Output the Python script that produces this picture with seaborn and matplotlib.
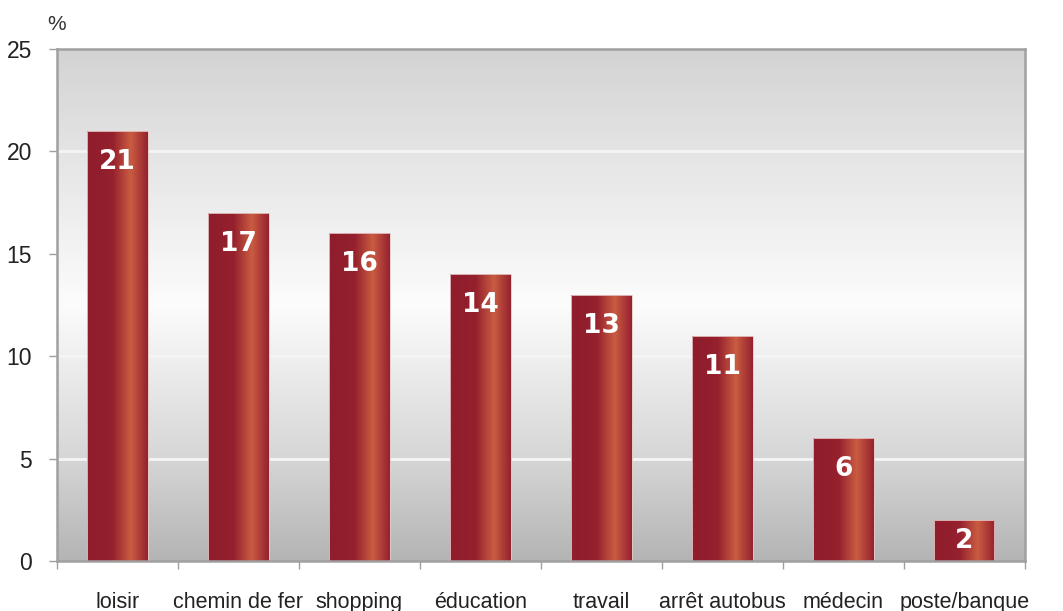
import numpy as np
import pandas as pd
import matplotlib
matplotlib.use("Agg")
import matplotlib.pyplot as plt
from matplotlib.colors import LinearSegmentedColormap
from matplotlib.ticker import FixedLocator
import seaborn as sns

categories = ["loisir", "chemin de fer", "shopping", "éducation",
              "travail", "arrêt autobus", "médecin", "poste/banque"]
values = [21, 17, 16, 14, 13, 11, 6, 2]
y_ticks = [0, 5, 10, 15, 20, 25]

sns.set_theme(style="white")
plt.rcParams["font.family"] = ["Liberation Sans", "DejaVu Sans"]

df = pd.DataFrame({"lieu": categories, "part": values})

fig = plt.figure(figsize=(10.63, 6.11), dpi=100)
ax = fig.add_axes([0.0536, 0.0818, 0.9104, 0.838])

sns.barplot(data=df, x="lieu", y="part", ax=ax, width=0.5,
            color="#931f2d", saturation=1, zorder=3)

ax.set_xlim(-0.5, len(categories) - 0.5)
ax.set_ylim(0, 25)

# vertical grey background gradient
bg_cmap = LinearSegmentedColormap.from_list("bg", [
    (0.0, "#b4b4b4"), (0.2, "#d6d6d6"), (0.5, "#fcfcfc"),
    (0.8, "#e4e4e4"), (1.0, "#d3d3d3")])
grad = np.linspace(0, 1, 256).reshape(-1, 1)
ax.imshow(grad, aspect="auto", cmap=bg_cmap, origin="lower",
          extent=[0, 1, 0, 1], transform=ax.transAxes, zorder=0,
          interpolation="bicubic")

# light horizontal grid lines
for t in y_ticks[1:-1]:
    ax.axhline(t, color="#f4f4f4", lw=2.0, zorder=1)

# horizontal metallic gradient on each bar
bar_cmap = LinearSegmentedColormap.from_list("bar", [
    (0.0, "#8f1d2c"), (0.42, "#95202e"), (0.72, "#ca5c41"),
    (1.0, "#94212f")])
hgrad = np.linspace(0, 1, 256).reshape(1, -1)
px_per_unit = ax.get_position().height * fig.get_figheight() * fig.dpi / 25
for patch, v in zip(ax.patches, values):
    x0, w = patch.get_x(), patch.get_width()
    h = patch.get_height()
    patch.set_facecolor("none")
    patch.set_edgecolor("#e8c8c8")
    patch.set_linewidth(0.6)
    im = ax.imshow(hgrad, aspect="auto", cmap=bar_cmap,
                   extent=[x0, x0 + w, 0, h], zorder=2,
                   interpolation="bicubic")
    im.set_clip_path(patch)
    # value label near the top, or centred when the bar is short
    bar_px = h * px_per_unit
    off_px = min(31, bar_px / 2)
    ax.annotate(f"{v}", xy=(x0 + w / 2, h),
                xytext=(0, -off_px * 72 / fig.dpi),
                textcoords="offset points", ha="center", va="center",
                color="white", fontsize=19, fontweight="bold",
                family="DejaVu Sans", zorder=4)

ax.set_xlim(-0.5, len(categories) - 0.5)
ax.set_ylim(0, 25)

# axes frame
for side in ["top", "left", "right", "bottom"]:
    ax.spines[side].set_visible(True)
    ax.spines[side].set_color("#a0a0a0")
    ax.spines[side].set_linewidth(1.8)
    ax.spines[side].set_zorder(5)

ax.set_yticks(y_ticks)
ax.set_yticklabels([str(t) for t in y_ticks])
ax.xaxis.set_minor_locator(FixedLocator(np.arange(-0.5, len(categories), 1.0)))
ax.tick_params(axis="x", which="major", length=0, pad=22,
               labelsize=15.5, labelcolor="#222222")
ax.tick_params(axis="x", which="minor", length=6, width=1,
               color="#a0a0a0", bottom=True)
ax.tick_params(axis="y", which="major", length=6, width=1, left=True,
               color="#a0a0a0", pad=12, labelsize=16.5, labelcolor="#222222")

ax.set_xlabel("")
ax.set_ylabel("")
fig.text(0.053, 0.96, "%", fontsize=15, color="#333333",
         ha="center", va="center")

fig.savefig("out.png", dpi=100)
